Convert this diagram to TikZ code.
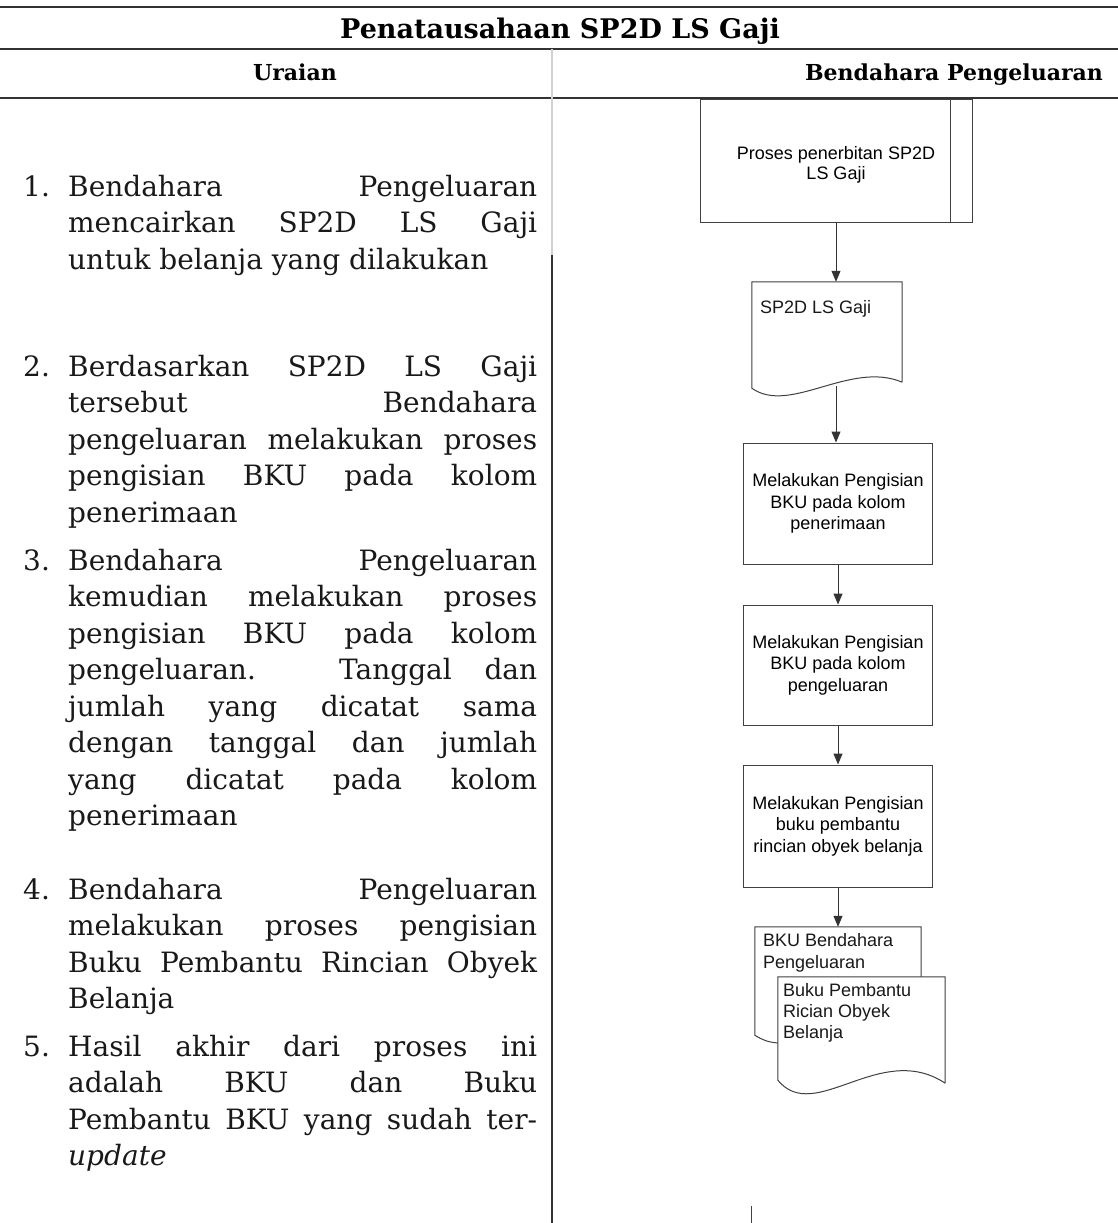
\documentclass[tikz,border=0pt]{standalone}
\usepackage{fontspec}
\setmainfont{DejaVu Serif}
\newfontfamily\flowfont{Liberation Sans}
\usetikzlibrary{arrows.meta,calc}

% one numbered paragraph of the description column
\newcommand\uraianitem[4]{%
  \node[numtext] (#1n) at (23,#2) {#3};
  \node[paratext] (#1) at (68,#2) {\parbox[t]{469pt}{\fontsize{28}{36.5}\selectfont
      \hyphenpenalty=10000 \exhyphenpenalty=10000 #4}};}

\begin{document}
\begin{tikzpicture}[x=1pt,y=-1pt,
  rulefat/.style={draw=black!80,line width=2pt},
  divider/.style={draw=black!80,line width=1.4pt},
  headtext/.style={font=\fontsize{22}{26}\selectfont\bfseries,text=black,inner sep=0pt,anchor=base},
  numtext/.style={font=\fontsize{28}{36.5}\selectfont,text=black!90,inner sep=0pt,anchor=base west},
  paratext/.style={text=black!90,inner sep=0pt,anchor=base west},
  stepbox/.style={draw=black!75,line width=1pt,inner sep=0pt,align=center,
    minimum width=189pt,minimum height=121pt,
    font=\flowfont\fontsize{18}{21.5}\selectfont},
  procbox/.style={stepbox,minimum width=272pt,minimum height=123pt},
  docarea/.style={inner sep=0pt},
  docline/.style={draw=black!75,line width=1pt},
  doctext/.style={inner sep=0pt,anchor=base west,text=black!90},
  flow/.style={draw=black!80,line width=1pt,-{Triangle[length=11pt,width=9pt]}}]

\useasboundingbox[fill=white] (0,0) rectangle (1118,1223);

% ---- table head ----
\draw[rulefat] (0,7) -- (1118,7);
\draw[rulefat] (0,49) -- (1118,49);
\draw[rulefat] (0,98) -- (1118,98);
\node[headtext,font=\fontsize{27}{30}\selectfont\bfseries] (title) at (560,39) {Penatausahaan SP2D LS Gaji};
\node[headtext] (colA) at (295,81) {Uraian};
\node[headtext] (colB) at (954,81) {Bendahara Pengeluaran};

% ---- column divider ----
\coordinate (divtop) at (552,49);
\coordinate (divmid) at (552,255);
\coordinate (divbot) at (552,1223);
\draw[divider,draw=black!18] (divtop) -- (divmid);
\draw[divider] (divmid) -- (divbot);

% ---- description column ----
\uraianitem{u1}{196}{1.}{Bendahara Pengeluaran\linebreak
  mencairkan SP2D LS Gaji\linebreak
  untuk belanja yang dilakukan}
\uraianitem{u2}{376}{2.}{Berdasarkan SP2D LS Gaji\linebreak
  tersebut Bendahara\linebreak
  pengeluaran melakukan proses\linebreak
  pengisian BKU pada kolom\linebreak
  penerimaan}
\uraianitem{u3}{570}{3.}{Bendahara Pengeluaran\linebreak
  kemudian melakukan proses\linebreak
  pengisian BKU pada kolom\linebreak
  pengeluaran. Tanggal dan\linebreak
  jumlah yang dicatat sama\linebreak
  dengan tanggal dan jumlah\linebreak
  yang dicatat pada kolom\linebreak
  penerimaan}
\uraianitem{u4}{899}{4.}{Bendahara Pengeluaran\linebreak
  melakukan proses pengisian\linebreak
  Buku Pembantu Rincian Obyek\linebreak
  Belanja}
\uraianitem{u5}{1056}{5.}{Hasil akhir dari proses ini\linebreak
  adalah BKU dan Buku\linebreak
  Pembantu BKU yang sudah ter-\linebreak
  \textit{update}}

% ---- flowchart ----
\node[procbox] (proc) at (836,161) {\rule{0pt}{21pt}Proses penerbitan SP2D\\[-1pt]LS Gaji};
\draw[docline] ($(proc.north east)+(-22,0)$) -- ($(proc.south east)+(-22,0)$);

\node[docarea,minimum width=150pt,minimum height=105pt] (doc1) at (827,334.5) {};
\draw[docline] ($(doc1.south east)+(0,-5)$) -- (doc1.north east) -- (doc1.north west)
  -- ($(doc1.south west)+(0,1)$)
  .. controls +(38,27) and +(-52,-22) .. ($(doc1.south east)+(0,-5)$);
\node[doctext,font=\flowfont\fontsize{18}{21.5}\selectfont] (doc1t)
  at ($(doc1.north west)+(8,31.5)$) {SP2D LS Gaji};

\node[stepbox] (box3) at (838,503.5) {Melakukan Pengisian\\BKU pada kolom\\penerimaan};
\node[stepbox,minimum height=120pt] (box4) at (838,665) {Melakukan Pengisian\\BKU pada kolom\\pengeluaran};
\node[stepbox,minimum height=122pt] (box5) at (838,826) {Melakukan Pengisian\\buku pembantu\\rincian obyek belanja};

% two stacked documents
\node[docarea,minimum width=166pt,minimum height=108pt] (mdb) at (838,981) {};
\node[docarea,minimum width=167pt,minimum height=103pt] (mdf) at (861.5,1028.5) {};
\draw[docline] (mdb.east |- mdf.north) -- (mdb.north east) -- (mdb.north west)
  -- (mdb.south west) .. controls +(8,5) and +(-10,-1) .. (mdf.west |- 0,1043);
\draw[docline,fill=white] ($(mdf.south east)+(0,3)$) -- (mdf.north east) -- (mdf.north west)
  -- (mdf.south west)
  .. controls +(37,45) and +(-65,-43) .. ($(mdf.south east)+(0,3)$);
\node[doctext,font=\flowfont\fontsize{18}{22}\selectfont] (mdbt)
  at ($(mdb.north west)+(8,19.5)$) {\parbox[t]{150pt}{BKU Bendahara\\Pengeluaran}};
\node[doctext,font=\flowfont\fontsize{18}{21}\selectfont] (mdft)
  at ($(mdf.north west)+(5,19.5)$) {\parbox[t]{150pt}{Buku Pembantu\\Rician Obyek\\Belanja}};

% connectors
\draw[flow] (proc.south) -- (proc.south |- doc1.north);
\draw[flow] ($(proc.south |- doc1.south)+(0,-1)$) -- (proc.south |- box3.north);
\draw[flow] (box3.south) -- (box4.north);
\draw[flow] (box4.south) -- (box5.north);
\draw[flow] (box5.south) -- (box5.south |- mdb.north);

% continuation mark at the page foot
\coordinate (cont) at (751,1206);
\draw[docline] (cont) -- (cont |- divbot);

\end{tikzpicture}
\end{document}
